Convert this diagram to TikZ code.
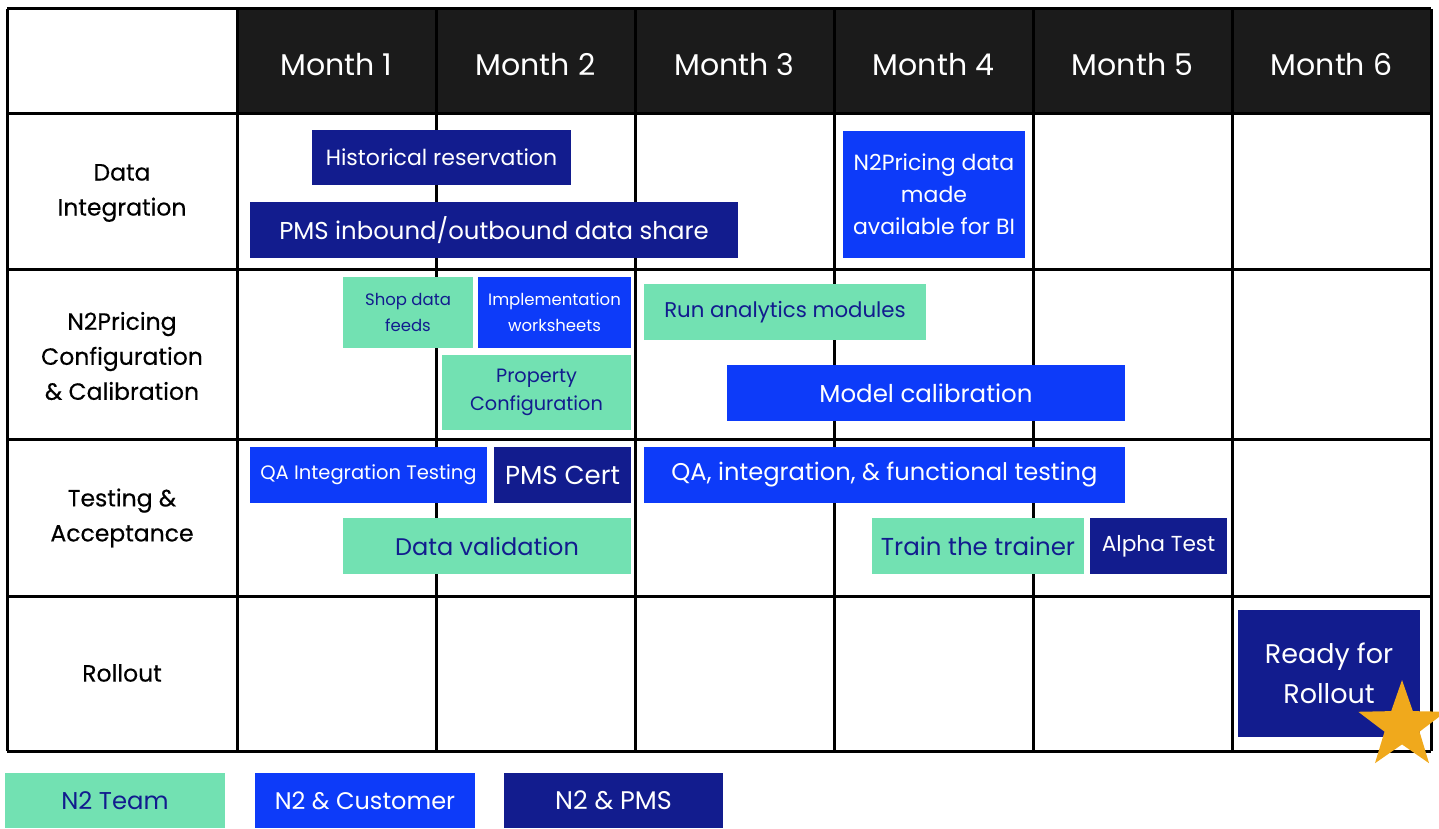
\documentclass[tikz,border=0pt]{standalone}
\usepackage{fontspec}
\setmainfont{Poppins}
\newfontfamily\medfont{Poppins}[FakeBold=0.35]
\usetikzlibrary{shapes.geometric}
\definecolor{navy}{HTML}{121C8E}
\definecolor{cblue}{HTML}{0D3BF9}
\definecolor{cgreen}{HTML}{72E1B2}
\definecolor{hdr}{HTML}{1B1B1B}
\definecolor{starc}{HTML}{F0A91C}
\newcommand{\fsz}[1]{\fontsize{#1}{32}\selectfont}
\tikzset{
  navybox/.style={fill=navy, text=white, inner sep=0pt, align=center},
  bluebox/.style={fill=cblue, text=white, inner sep=0pt, align=center},
  greenbox/.style={fill=cgreen, text=navy, inner sep=0pt, align=center},
  grid/.style={line width=3pt, black},
  monthlbl/.style={text=white, font=\fontsize{30}{34}\selectfont},
  rowlbl/.style={text=black, align=center, font=\medfont\fontsize{23.5}{35}\selectfont},
}
\newcommand{\gbox}[7]{\node[#6, minimum width={#4-#2}, minimum height={#5-#3}] (#1) at ({(#2+#4)/2},{(#3+#5)/2}) {#7};}
\begin{document}
\begin{tikzpicture}[x=1pt,y=-1pt]
\useasboundingbox (0,0) rectangle (1439,829);
% header fill
\fill[hdr] (237,9) rectangle (1431,114);
% grid lines
\foreach \yy in {9,114,269,439,596,751} \draw[grid] (7,\yy) -- (1431,\yy);
\foreach \xx in {7,237,436,635,834,1033,1232,1431} \draw[grid] (\xx,9) -- (\xx,751);
% month labels
\foreach \i/\xx in {1/336.5,2/535.5,3/734.5,4/933.5,5/1132.5,6/1331.5}
  \node[monthlbl] (m\i) at (\xx,65) {Month \i};
% row labels
\node[rowlbl] (r1) at (122,193) {Data\\Integration};
\node[rowlbl] (r2) at (122,356) {N2Pricing\\Configuration\\\& Calibration};
\node[rowlbl] (r3) at (122,518) {Testing \&\\Acceptance};
\node[rowlbl] (r4) at (122,673) {Rollout};
% tasks
\gbox{hist}{312}{130}{571}{185}{navybox,font=\fsz{22}}{Historical reservation}
\gbox{pms}{250}{202}{738}{258}{navybox,font=\fsz{24.4}}{PMS inbound/outbound data share}
\gbox{bi}{843}{131}{1025}{258}{bluebox,font=\fsz{22}}{N2Pricing data\\made\\available for BI}
\gbox{shop}{343}{277}{473}{348}{greenbox,font=\fontsize{16.5}{26}\selectfont}{Shop data\\feeds}
\gbox{impl}{478}{277}{631}{348}{bluebox,font=\fontsize{16.5}{26}\selectfont}{Implementation\\worksheets}
\gbox{run}{644}{284}{926}{340}{greenbox,font=\fsz{21.3}}{Run analytics modules}
\gbox{prop}{442}{355}{631}{430}{greenbox,font=\fontsize{19.3}{28}\selectfont}{Property\\Configuration}
\gbox{model}{727}{365}{1125}{421}{bluebox,font=\fsz{24.5}}{Model calibration}
\gbox{qa}{250}{447}{487}{503}{bluebox,font=\fsz{19.5}}{QA Integration Testing}
\gbox{cert}{494}{447}{631}{503}{navybox,font=\fsz{26}}{PMS Cert}
\gbox{qaf}{644}{447}{1125}{503}{bluebox,font=\fsz{24.2}}{QA, integration, \& functional testing}
\gbox{dv}{343}{518}{631}{574}{greenbox,font=\fsz{24}}{Data validation}
\gbox{train}{872}{518}{1084}{574}{greenbox,font=\fsz{24.5}}{Train the trainer}
\gbox{alpha}{1090}{518}{1227}{574}{navybox,font=\fsz{21.7}}{Alpha Test}
\gbox{ready}{1238}{610}{1420}{737}{navybox,font=\fontsize{27}{40}\selectfont}{Ready for\\Rollout}
\node[star, star points=5, star point ratio=2.5, fill=starc, minimum size=92pt, inner sep=0pt] (star) at (1402,726) {};
% legend
\gbox{lg1}{5}{773}{225}{828}{greenbox,font=\fsz{24.3}}{N2 Team}
\gbox{lg2}{255}{773}{475}{828}{bluebox,font=\fsz{24}}{N2 \& Customer}
\gbox{lg3}{504}{773}{723}{828}{navybox,font=\fsz{25.5}}{N2 \& PMS}
\end{tikzpicture}
\end{document}
